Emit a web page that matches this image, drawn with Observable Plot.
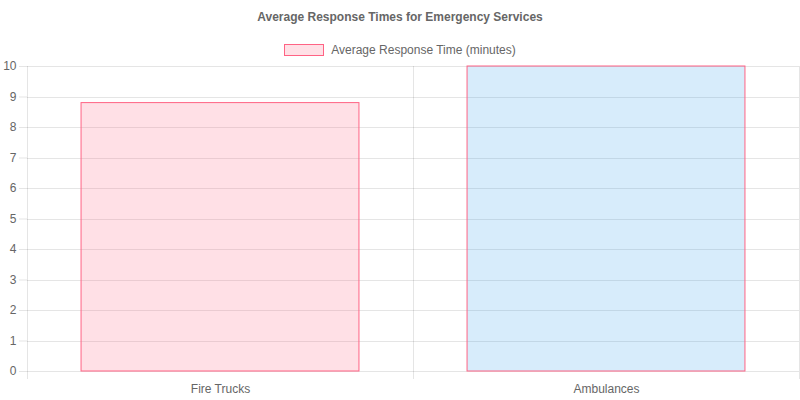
<!DOCTYPE html>
<html>
<head>
<meta charset="utf-8">
<script src="https://cdn.jsdelivr.net/npm/d3@7"></script>
<script src="https://cdn.jsdelivr.net/npm/@observablehq/plot@0.6"></script>
<style>
  html, body { margin: 0; padding: 0; background: #fff; }
  body { width: 800px; font-family: "Liberation Sans", Arial, Helvetica, sans-serif; color: #666; }
  .title { height: 14px; line-height: 14px; padding: 10px 0; text-align: center; font-weight: bold; font-size: 12px; color: #666; }
  .legend { height: 12px; line-height: 12px; padding: 10px 0 2px 0; display: flex; justify-content: center; align-items: center; font-size: 12px; color: #666; }
  .legend .swatch { width: 38px; height: 10px; border: 1px solid rgb(255, 99, 132); background: rgba(255, 99, 132, 0.2); margin-right: 7px; }
  svg { display: block; }
</style>
</head>
<body>
<div class="title">Average Response Times for Emergency Services</div>
<div class="legend"><span class="swatch"></span><span>Average Response Time (minutes)</span></div>
<div id="chart"></div>
<script>
const categories = ["Fire Trucks", "Ambulances"];
const responseTimes = [8.8, 10];
const yTicks = [0, 1, 2, 3, 4, 5, 6, 7, 8, 9, 10];
const seriesLabel = "Average Response Time (minutes)";

const barColors = ["rgb(255, 99, 132)", "rgb(54, 162, 235)"];
const borderColor = "rgb(255, 99, 132)";
const gridColor = "rgba(0, 0, 0, 0.1)";

const data = categories.map((c, i) => ({category: c, value: responseTimes[i]}));

const W = 800, H = 342;
const mL = 27, mR = 1, mT = 8, mB = 29;
const bandW = (W - mL - mR) / categories.length;
const barInset = bandW * (1 - 0.8 * 0.9) / 2;

function bandGrid(index, scales, values, dimensions) {
  const {width, height, marginTop, marginBottom, marginRight} = dimensions;
  const x = scales.x;
  const edges = categories.map(c => x(c)).concat([width - marginRight]);
  const g = d3.create("svg:g");
  for (const e of edges) {
    g.append("line")
      .attr("x1", e).attr("x2", e)
      .attr("y1", marginTop).attr("y2", height - marginBottom + 8)
      .attr("stroke", gridColor)
      .attr("stroke-width", 1)
      .attr("shape-rendering", "crispEdges");
  }
  return g.node();
}

const chart = Plot.plot({
  width: W,
  height: H,
  marginLeft: mL,
  marginRight: mR,
  marginTop: mT,
  marginBottom: mB,
  style: {fontFamily: '"Liberation Sans", Arial, Helvetica, sans-serif', fontSize: "12px", color: "#666", background: "#fff"},
  x: {type: "band", domain: categories, padding: 0, label: null},
  y: {domain: [0, 10], label: null},
  color: {domain: categories, range: barColors},
  marks: [
    Plot.gridY(yTicks, {stroke: gridColor, strokeOpacity: 1, shapeRendering: "crispEdges"}),
    bandGrid,
    Plot.barY(data, {
      x: "category",
      y: "value",
      fill: "category",
      fillOpacity: 0.2,
      stroke: borderColor,
      strokeWidth: 1,
      insetLeft: barInset,
      insetRight: barInset,
      title: d => `${seriesLabel}: ${d.value}`
    }),
    Plot.axisY(yTicks, {tickSize: 8, tickPadding: 3, stroke: gridColor, strokeOpacity: 1, fill: "#666", fontSize: 12, label: null, tickFormat: d => d}),
    Plot.axisX({tickSize: 0, tickPadding: 13, fill: "#666", fontSize: 12, label: null})
  ]
});
document.getElementById("chart").appendChild(chart);
</script>
</body>
</html>
